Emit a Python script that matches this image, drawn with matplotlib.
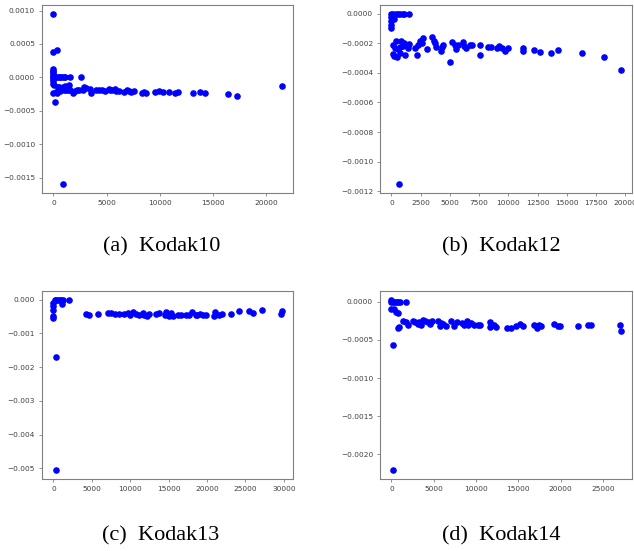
import numpy as np
import matplotlib
matplotlib.use('Agg')
import matplotlib.pyplot as plt

# Kodak10
x10 = [0, 0, 375, 0, 0, 0, 0, 0, 0, 0, 0, 0, 150, 350, 500, 650, 800, 950, 1100,
       156, 875, 1600, 2625, 21470, 17280, 16440, 14280, 13810, 13090, 11700, 11400,
       10900, 10300, 9900, 9600, 8700, 8500, 8300, 7600, 7300, 7100, 6900, 6600, 6200,
       5900, 5800, 5500, 5300, 5200, 4900, 4600, 4300, 4000, 3500, 3400, 3100, 2900,
       2800, 2400, 2200, 2000, 1800, 1600, 1500, 1400, 1200, 1100, 1000, 900, 700,
       500, 400, 350, 250, 0, 300, 100, 600]
y10 = [0.000955, 0.000373, 0.000408, 0.00013, 0.0001, 0.00008, 0.00005, 0.00002,
       0.0, -0.00003, -0.00006, -0.0001, 0.0, 0.0, 0.0, 0.0, 0.0, 0.0, 0.0,
       -0.000373, -0.0016, 0.0, 0.0, -0.000124, -0.00028, -0.000254, -0.00024,
       -0.000214, -0.000234, -0.000224, -0.00024, -0.000214, -0.000214, -0.0002,
       -0.000224, -0.000234, -0.000219, -0.000234, -0.0002, -0.000224, -0.000209,
       -0.000194, -0.000214, -0.000204, -0.000199, -0.000169, -0.000194, -0.000184,
       -0.000174, -0.000199, -0.000184, -0.000189, -0.000184, -0.00024, -0.000179,
       -0.000164, -0.000149, -0.000189, -0.000184, -0.000194, -0.000209, -0.00024,
       -0.000189, -0.000114, -0.000189, -0.000189, -0.000129, -0.000189, -0.000149,
       -0.000179, -0.000149, -0.000149, -0.000229, -0.000224, -0.00024, -0.00022,
       -0.00012, -0.0002]

# Kodak12
x12 = [19600, 18150, 16320, 14250, 13680, 12730, 12220, 11250, 11250, 10000, 9700,
       9500, 9200, 9000, 8500, 8300, 7600, 7600, 6900, 6700, 6400, 6200, 6100, 5700,
       5500, 5400, 5200, 5000, 4400, 4300, 4200, 3800, 3700, 3600, 3500, 3000, 2700,
       2600, 2400, 2300, 2200, 2000, 1500, 1400, 1300, 1200, 1100, 1000, 800, 700,
       700, 600, 500, 400, 300, 200, 100, 100, 680,
       0, 150, 350, 550, 750, 950, 1100, 1500, 0, 0, 0, 0, 200]
y12 = [-0.00038, -0.000292, -0.000269, -0.000249, -0.000269, -0.000262, -0.000247,
       -0.000235, -0.000253, -0.000235, -0.000251, -0.000235, -0.000222, -0.000235,
       -0.000224, -0.000229, -0.000215, -0.00028, -0.000215, -0.000215, -0.000233,
       -0.000219, -0.000192, -0.000213, -0.00024, -0.000215, -0.000192, -0.000324,
       -0.000211, -0.000229, -0.000253, -0.000224, -0.000199, -0.000188, -0.00016,
       -0.000242, -0.000167, -0.000199, -0.000186, -0.000213, -0.00028, -0.000233,
       -0.000206, -0.000235, -0.000213, -0.000283, -0.000197, -0.000219, -0.000186,
       -0.000265, -0.000226, -0.000238, -0.000296, -0.000186, -0.000231, -0.000287,
       -0.000213, -0.000271, -0.001154,
       0.0, 0.0, 0.0, 0.0, 0.0, 0.0, 0.0, 0.0, -0.00002, -0.00005, -0.00008, -0.0001,
       -0.00004]

# Kodak13
x13 = [345, 300, 0, 0, 0, 0, 0, 200, 400, 600, 800, 1000, 1200, 2000, 1100,
       4200, 4600, 5800, 7100, 7500, 8000, 8600, 9200, 9700, 10000, 10300, 10700,
       11100, 11600, 11800, 12200, 12400, 13300, 13800, 14500, 14700, 15000, 15300,
       15600, 16200, 16600, 17200, 17600, 18100, 18500, 18700, 19100, 19500, 19800,
       20900, 21000, 21500, 22000, 23100, 24100, 25400, 26000, 27100, 29600, 29700]
y13 = [-0.0017, -0.00506, -0.0005, -0.00055, -0.0003, -0.0002, -0.0001, 0.0, 0.0,
       0.0, 0.0, 0.0, 0.0, 0.0, -0.00013,
       -0.00042, -0.00045, -0.00042, -0.0004, -0.0004, -0.00043, -0.00043, -0.00042,
       -0.0004, -0.00047, -0.00038, -0.00043, -0.00046, -0.00041, -0.00045, -0.00048,
       -0.00042, -0.00042, -0.0004, -0.00045, -0.00038, -0.00048, -0.00041, -0.00049,
       -0.00045, -0.00045, -0.00045, -0.00045, -0.00037, -0.00047, -0.00047, -0.00042,
       -0.00045, -0.00045, -0.00048, -0.00037, -0.00045, -0.00042, -0.00042, -0.00035,
       -0.00035, -0.0004, -0.00032, -0.00042, -0.00035]

# Kodak14
x14 = [200, 200, 833, 900, 0, 0, 200, 400, 600, 800, 1000, 1700, 0, 300, 500, 800,
       1400, 1700, 1900, 2500, 2800, 3100, 3300, 3500, 3700, 4000, 4300, 4600, 4800,
       5500, 5700, 5900, 6100, 6500, 7100, 7400, 7800, 8300, 8600, 8900, 9100, 9400,
       9800, 10200, 10500, 11600, 11700, 12100, 12400, 13700, 14100, 14700, 15200,
       15600, 16900, 17200, 17500, 17700, 19200, 19700, 19900, 22100, 23200, 23600,
       27000, 27100]
y14 = [-0.000567, -0.00221, -0.000345, -0.00033, 0.00003, 0.0, 0.0, 0.0, 0.0, 0.0,
       0.0, 0.0, -0.0001, -0.0001, -0.00013, -0.00015,
       -0.00025, -0.00027, -0.00031, -0.00025, -0.00027, -0.00029, -0.00027, -0.0003,
       -0.00024, -0.00025, -0.00027, -0.00029, -0.00025, -0.00025, -0.00032, -0.00028,
       -0.00029, -0.00032, -0.00025, -0.00032, -0.00027, -0.00028, -0.00031, -0.00025,
       -0.00031, -0.00028, -0.00031, -0.0003, -0.0003, -0.00027, -0.00033, -0.0003,
       -0.00033, -0.00034, -0.00034, -0.00032, -0.00029, -0.00032, -0.00031, -0.00034,
       -0.0003, -0.00032, -0.00029, -0.00032, -0.00032, -0.00032, -0.0003, -0.0003,
       -0.00031, -0.00038]

captions = ['(a)  Kodak10', '(b)  Kodak12', '(c)  Kodak13', '(d)  Kodak14']
series = [(x10, y10), (x12, y12), (x13, y13), (x14, y14)]

fig = plt.figure(figsize=(6.34, 5.51), dpi=100)
W, H = 634, 551
# axes boxes in pixels: left, top, right, bottom
boxes = [(42, 5, 293, 193), (380, 5, 632, 193), (42, 291, 293, 479), (380, 291, 632, 479)]
cap_pos = [(162, 247), (501, 247), (161, 536), (501, 536)]

for (xs, ys), (l, t, r, b), cap, (cx, cy) in zip(series, boxes, captions, cap_pos):
    ax = fig.add_axes([l / W, 1 - b / H, (r - l) / W, (b - t) / H])
    ax.scatter(xs, ys, s=14, color='blue', zorder=3)
    for sp in ax.spines.values():
        sp.set_color('#808080')
    ax.tick_params(labelsize=5.3, colors='#404040', length=2.5, width=0.6, pad=2.5)
    ax.tick_params(color='#808080')
    fig.text(cx / W, 1 - cy / H, cap, ha='center', va='center',
             family='Liberation Serif', fontsize=16)

fig.savefig('out.png', dpi=100)
